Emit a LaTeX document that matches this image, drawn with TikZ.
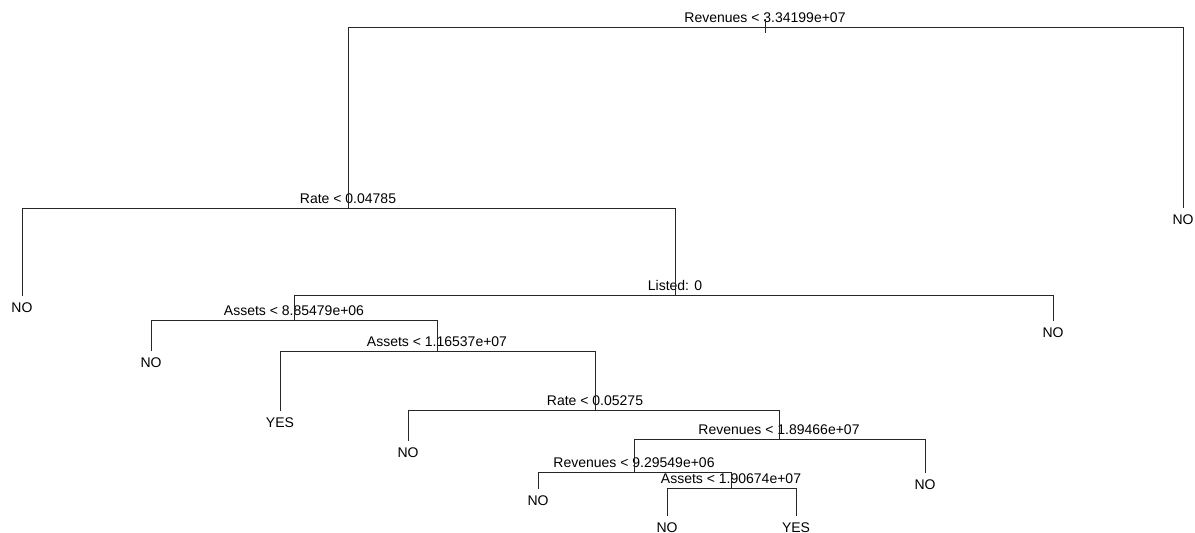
\documentclass[tikz,border=0pt]{standalone}
\usepackage{fontspec}
\setmainfont{Liberation Sans}
\begin{document}
\begin{tikzpicture}[x=1pt,y=-1pt,
  font=\fontsize{14}{16}\selectfont,
  split/.style={anchor=south,inner xsep=0pt,inner ysep=4.5pt,text depth=0pt},
  leaf/.style={anchor=base,inner xsep=0pt,inner ysep=6pt,text height=10pt,text depth=0pt},
  edge/.style={draw=black!85,line width=1pt}
]
\useasboundingbox (0,0) rectangle (1195,533);
% splits
\node[split] (s1) at (765,27) {Revenues < 3.34199e+07};
\node[split] (s2) at (348,208) {Rate < 0.04785};
\node[split] (s3) at (675,295) {Listed: 0};
\node[split] (s4) at (294,320) {Assets < 8.85479e+06};
\node[split] (s5) at (437,351) {Assets < 1.16537e+07};
\node[split] (s6) at (595,410) {Rate < 0.05275};
\node[split] (s7) at (779,439) {Revenues < 1.89466e+07};
\node[split] (s8) at (634,472) {Revenues < 9.29549e+06};
\node[split] (s9) at (731,488) {Assets < 1.90674e+07};
% leaves
\node[leaf] (l1) at (1183,224) {NO};
\node[leaf] (l2) at (22,312) {NO};
\node[leaf] (l3) at (1053,337) {NO};
\node[leaf] (l4) at (151,367) {NO};
\node[leaf] (l5) at (280,427) {YES};
\node[leaf] (l6) at (408,457) {NO};
\node[leaf] (l7) at (925,489) {NO};
\node[leaf] (l8) at (538,505) {NO};
\node[leaf] (l9) at (667,532) {NO};
\node[leaf] (l10) at (796,532) {YES};
% branches
\draw[edge] ([yshift=8pt]s1.south) -- ([yshift=-6pt]s1.south);
\draw[edge] (s1.south) -| (s2.south);
\draw[edge] (s1.south) -| (l1.north);
\draw[edge] (s2.south) -| (l2.north);
\draw[edge] (s2.south) -| (s3.south);
\draw[edge] (s3.south) -| (s4.south);
\draw[edge] (s3.south) -| (l3.north);
\draw[edge] (s4.south) -| (l4.north);
\draw[edge] (s4.south) -| (s5.south);
\draw[edge] (s5.south) -| (l5.north);
\draw[edge] (s5.south) -| (s6.south);
\draw[edge] (s6.south) -| (l6.north);
\draw[edge] (s6.south) -| (s7.south);
\draw[edge] (s7.south) -| (s8.south);
\draw[edge] (s7.south) -| (l7.north);
\draw[edge] (s8.south) -| (l8.north);
\draw[edge] (s8.south) -| (s9.south);
\draw[edge] (s9.south) -| (l9.north);
\draw[edge] (s9.south) -| (l10.north);
\end{tikzpicture}
\end{document}
